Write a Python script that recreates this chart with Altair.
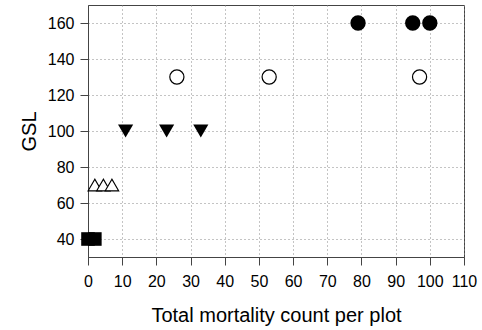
import altair as alt
import pandas as pd

# Data
square_x = [0, 2]
square_y = [40, 40]
tri_up_x = [2, 4.5, 7]
tri_up_y = [70, 70, 70]
tri_down_x = [11, 23, 33]
tri_down_y = [100, 100, 100]
open_circle_x = [26, 53, 97]
open_circle_y = [130, 130, 130]
filled_circle_x = [79, 95, 100]
filled_circle_y = [160, 160, 160]

x_ticks = list(range(0, 111, 10))
y_ticks = list(range(40, 161, 20))

FONT = "Liberation Sans"

x_enc = alt.X(
    "x:Q",
    scale=alt.Scale(domain=[0, 110], nice=False, zero=False),
    axis=alt.Axis(values=x_ticks, title="Total mortality count per plot",
                  labelOverlap=False, labelFlush=False),
)
y_enc = alt.Y(
    "y:Q",
    scale=alt.Scale(domain=[30, 170], nice=False, zero=False),
    axis=alt.Axis(values=y_ticks, title="GSL", labelOverlap=False,
                  labelFlush=False),
)


def layer(xs, ys, shape, size, filled):
    df = pd.DataFrame({"x": xs, "y": ys})
    if filled:
        m = alt.Chart(df).mark_point(shape=shape, size=size, filled=True,
                                     color="black", opacity=1)
    else:
        m = alt.Chart(df).mark_point(shape=shape, size=size, filled=False,
                                     fill="white", fillOpacity=1,
                                     stroke="black", strokeWidth=1.2, opacity=1)
    return m.encode(x=x_enc, y=y_enc)


chart = alt.layer(
    layer(square_x, square_y, "square", 185, True),
    layer(tri_up_x, tri_up_y, "triangle-up", 180, False),
    layer(tri_down_x, tri_down_y, "triangle-down", 230, True),
    layer(open_circle_x, open_circle_y, "circle", 200, False),
    layer(filled_circle_x, filled_circle_y, "circle", 235, True),
).properties(
    width=376,
    height=252,
    autosize=alt.AutoSizeParams(type="none"),
    padding={"left": 88, "top": 5, "right": 18, "bottom": 73},
).configure_view(
    stroke="#444", strokeWidth=1
).configure_axis(
    labelFont=FONT, titleFont=FONT,
    labelFontSize=16, titleFontSize=20,
    labelColor="black", titleColor="black",
    titleFontWeight="normal",
    domainColor="#444", tickColor="#444",
    tickSize=8, labelPadding=6,
    grid=True, gridColor="#888", gridDash=[1, 3], gridWidth=1,
).configure_axisX(
    titlePadding=16, labelPadding=8,
).configure_axisY(
    titlePadding=8,
)

chart.save("out.html", embed_options={"renderer": "svg", "actions": False})
